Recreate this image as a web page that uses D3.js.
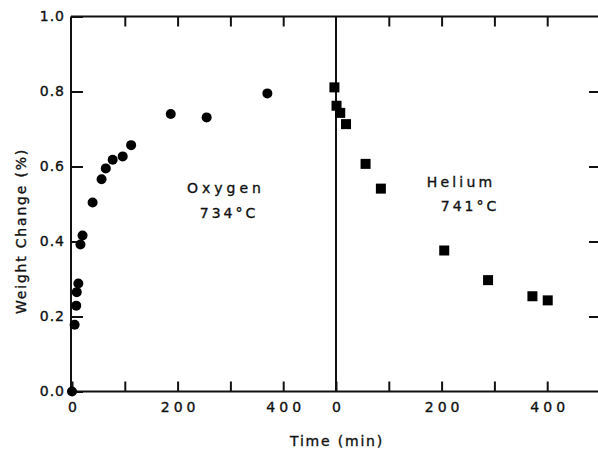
<!DOCTYPE html>
<html>
<head>
<meta charset="utf-8">
<script src="https://cdn.jsdelivr.net/npm/d3@7"></script>
<style>
  body { margin: 0; background: #fff; }
  svg { display: block; }
  text { font-family: "DejaVu Sans", sans-serif; fill: #111; stroke: #111; stroke-width: 0.35px; }
</style>
</head>
<body>
<div id="chart"></div>
<script>
// Oxygen run at 734 C (left panel)
var oxygenTime   = [0, 5, 8, 9, 12, 16, 20, 39, 56, 64, 77, 96, 112, 187, 255, 370];
var oxygenWeight = [0.0, 0.178, 0.229, 0.265, 0.288, 0.392, 0.416, 0.504, 0.566, 0.595, 0.618, 0.627, 0.657, 0.740, 0.731, 0.795];

// Helium run at 741 C (right panel)
var heliumTime   = [-3, 1, 8, 19, 56, 85, 205, 288, 372, 401];
var heliumWeight = [0.811, 0.762, 0.743, 0.713, 0.607, 0.541, 0.376, 0.297, 0.254, 0.243];

var xTicks = [0, 100, 200, 300, 400];
var xLabelled = [0, 200, 400];
var yTicks = [0, 0.2, 0.4, 0.6, 0.8, 1.0];

(function() {
    var width = 598, height = 451;
    var margin = { left: 71, mid: 336, right: 600, top: 16.5, bottom: 391.5 };

    var svg = d3.select("#chart").append("svg")
        .attr("width", width)
        .attr("height", height);

    var y = d3.scaleLinear().domain([0, 1]).range([margin.bottom, margin.top]);
    var xL = d3.scaleLinear().domain([0, 500]).range([72, margin.mid]);
    var xR = d3.scaleLinear().domain([0, 500]).range([margin.mid, margin.right]);

    function styleAxis(g) {
        g.select(".domain").remove();
        g.selectAll(".tick line").attr("stroke", "#111").attr("stroke-width", 2);
        g.selectAll(".tick text")
            .style("font-size", "14px")
            .style("letter-spacing", "4px")
            .attr("fill", "#111");
    }

    // bottom and top axes for each panel
    [xL, xR].forEach(function(x) {
        svg.append("g")
            .attr("transform", "translate(0," + margin.bottom + ")")
            .call(d3.axisBottom(x).tickValues(xTicks).tickSize(-10).tickPadding(11)
                .tickFormat(function(d) { return xLabelled.indexOf(d) >= 0 ? d : ""; }))
            .call(styleAxis)
            .selectAll(".tick text").attr("dx", "2px");
        svg.append("g")
            .attr("transform", "translate(0," + margin.top + ")")
            .call(d3.axisTop(x).tickValues(xTicks.slice(1)).tickSize(-10).tickFormat(""))
            .call(styleAxis);
    });

    // left y axis
    svg.append("g")
        .attr("transform", "translate(" + margin.left + ",0)")
        .call(d3.axisLeft(y).tickValues(yTicks).tickSize(-12).tickPadding(6)
            .tickFormat(d3.format(".1f")))
        .call(styleAxis)
        .selectAll(".tick text").style("letter-spacing", "1px");

    // right y axis (ticks only)
    svg.append("g")
        .attr("transform", "translate(" + margin.right + ",0)")
        .call(d3.axisRight(y).tickValues(yTicks.slice(1, 5)).tickSize(-11).tickFormat(""))
        .call(styleAxis);

    // frame lines
    var frame = [
        [margin.left, margin.bottom, margin.right, margin.bottom],
        [margin.left, margin.top, margin.right, margin.top],
        [margin.left, margin.top, margin.left, margin.bottom],
        [margin.mid, margin.top, margin.mid, margin.bottom]
    ];
    svg.selectAll("line.frame").data(frame).enter().append("line")
        .attr("class", "frame")
        .attr("x1", function(d) { return d[0]; })
        .attr("y1", function(d) { return d[1]; })
        .attr("x2", function(d) { return d[2]; })
        .attr("y2", function(d) { return d[3]; })
        .attr("stroke", "#111")
        .attr("stroke-width", 2);

    // oxygen circles
    svg.selectAll("circle.ox").data(oxygenTime).enter().append("circle")
        .attr("class", "ox")
        .attr("cx", function(d) { return xL(d); })
        .attr("cy", function(d, i) { return y(oxygenWeight[i]); })
        .attr("r", 5)
        .attr("fill", "#000");

    // helium squares
    var s = 10;
    svg.selectAll("rect.he").data(heliumTime).enter().append("rect")
        .attr("class", "he")
        .attr("x", function(d) { return xR(d) - s / 2; })
        .attr("y", function(d, i) { return y(heliumWeight[i]) - s / 2; })
        .attr("width", s)
        .attr("height", s)
        .attr("fill", "#000");

    // annotations
    function label(txt, x, yy, ls) {
        svg.append("text")
            .attr("x", x).attr("y", yy)
            .attr("text-anchor", "middle")
            .style("font-size", "14px")
            .style("letter-spacing", ls + "px")
            .text(txt);
    }
    label("Oxygen", 226, 193, 4);
    label("734°C", 229, 218, 3);
    label("Helium", 461, 187, 3.2);
    label("741°C", 470, 211, 3);

    // axis titles
    label("Time (min)", 337, 446, 1.8);
    svg.append("text")
        .attr("transform", "translate(26,231) rotate(-90)")
        .attr("text-anchor", "middle")
        .style("font-size", "14px")
        .style("letter-spacing", "1.8px")
        .text("Weight Change (%)");
})();
</script>
</body>
</html>
